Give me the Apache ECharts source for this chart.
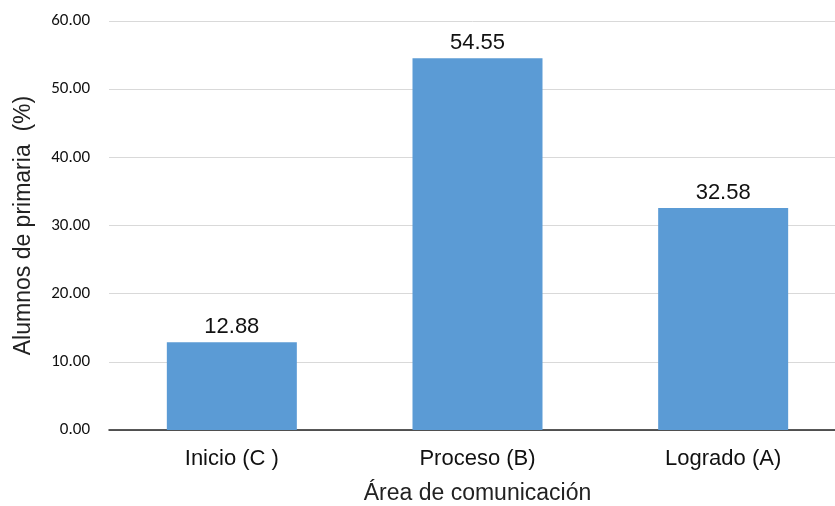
<!DOCTYPE html>
<html><head><meta charset="utf-8">
<script src="https://cdn.jsdelivr.net/npm/echarts@6/dist/echarts.min.js"></script>
<style>html,body{margin:0;padding:0;background:#fff}#c{width:835px;height:506px}</style>
</head><body><div id="c"></div>
<script>
const categories = ["Inicio (C )", "Proceso (B)", "Logrado (A)"];
const values = [12.88, 54.55, 32.58];
const yTicks = [0, 10, 20, 30, 40, 50, 60];

const chart = echarts.init(document.getElementById('c'), null, {renderer: 'canvas'});
chart.setOption({
  animation: false,
  grid: {left: 109, top: 21, width: 737, height: 409, outerBoundsMode: 'none', containLabel: false},
  xAxis: {
    type: 'category', data: categories,
    name: 'Área de comunicación', nameLocation: 'middle', nameGap: 52,
    nameTextStyle: {fontFamily: 'Liberation Sans', fontSize: 23, color: '#222'},
    axisLine: {lineStyle: {color: '#222', width: 1.5}},
    axisTick: {show: false},
    axisLabel: {fontFamily: 'Liberation Sans', fontSize: 22, color: '#111', margin: 18}
  },
  yAxis: {
    type: 'value', min: yTicks[0], max: yTicks[yTicks.length-1], interval: 10,
    name: 'Alumnos de primaria  (%)', nameLocation: 'middle', nameGap: 74,
    nameTextStyle: {fontFamily: 'Liberation Sans', fontSize: 23, color: '#222'},
    axisLine: {show: false}, axisTick: {show: false},
    splitLine: {lineStyle: {color: '#d9d9d9', width: 1}},
    axisLabel: {fontFamily: 'Carlito, "Open Sans"', fontSize: 17, color: '#111', margin: 19,
      formatter: v => v.toFixed(2)}
  },
  series: [{
    type: 'bar', data: values, barWidth: 130,
    itemStyle: {color: '#5B9BD5'},
    label: {show: true, position: 'top', distance: 4, fontFamily: 'Liberation Sans', fontSize: 22, color: '#111',
      formatter: p => p.value.toFixed(2)}
  }]
});
</script></body></html>
